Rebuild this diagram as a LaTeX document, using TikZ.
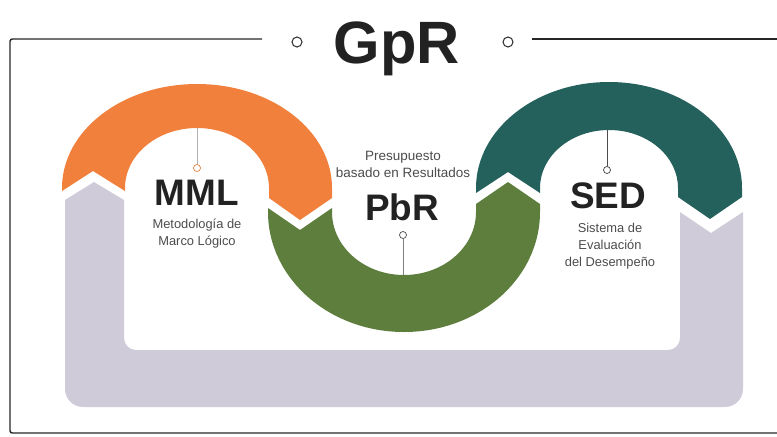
\documentclass[tikz,border=0pt]{standalone}
\usepackage{fontspec}
\setmainfont{Liberation Sans}
\usepackage{xcolor}
\usetikzlibrary{positioning, calc}

\definecolor{mmlorange}{HTML}{F0803C}
\definecolor{pbrgreen}{HTML}{5E7E3E}
\definecolor{sedteal}{HTML}{24605C}
\definecolor{loopgray}{HTML}{CFCBD8}
\definecolor{inkgray}{HTML}{222222}

\begin{document}
\begin{tikzpicture}[
    x=0.03cm, y=-0.03cm,
    frame/.style={line width=1.2pt, black!85},
    ring/.style={circle, draw=black!80, fill=white, line width=0.9pt, minimum size=0.3cm, inner sep=0pt},
    dot/.style={circle, draw, fill=white, line width=0.6pt, minimum size=0.21cm, inner sep=0pt},
    stem/.style={line width=0.5pt},
    acro/.style={font=\fontsize{31.5}{32}\selectfont\bfseries, text=inkgray, inner sep=0pt, anchor=base},
    desc/.style={font=\fontsize{11}{14.5}\selectfont, text=black!70, align=center, inner sep=0pt, anchor=north}
]
\useasboundingbox (0,0) rectangle (777,436);

% Frame and title
\draw[frame, rounded corners=2pt] (262,39) -- (10,39) -- (10,433) -- (777,433);
\draw[frame] (532,39) -- (777,39);
\node[font=\fontsize{51}{51}\selectfont\bfseries, text=inkgray, anchor=base] (gpr) at (397,63) {GpR};
\node[ring] (ringl) at (297,42) {};
\node[ring] (ringr) at (508,42) {};

% Loop band (gray)
\fill[loopgray] (65,200) -- (94,182) -- (124,200) -- (124,338)
    arc[start angle=180, end angle=90, radius=12] -- (668,350)
    arc[start angle=90, end angle=0, radius=12] -- (680,212) -- (711,233) -- (743,212) -- (743,389)
    arc[start angle=0, end angle=90, radius=18] -- (83,407)
    arc[start angle=90, end angle=180, radius=18] -- cycle;

% MML band
\fill[mmlorange] (62,191) -- (62,188)
    arc[start angle=180, end angle=360, x radius=135, y radius=104] -- (332,198) -- (300,220) -- (269,198) -- (269,188)
    arc[start angle=0, end angle=-180, x radius=72, y radius=60] -- (125,191) -- (93,171) -- cycle;

% PbR band
\fill[pbrgreen] (268,208) -- (300,230) -- (332,208) -- (332,212)
    arc[start angle=180, end angle=0, x radius=72, y radius=63] -- (476,204) -- (508,182) -- (540,204) -- (540,212)
    arc[start angle=0, end angle=180, x radius=136, y radius=120] -- cycle;

% SED band
\fill[sedteal] (476,193) -- (476,188)
    arc[start angle=180, end angle=360, x radius=133, y radius=106] -- (742,197) -- (710,219) -- (678,197) -- (678,188)
    arc[start angle=0, end angle=-180, x radius=69, y radius=58] -- (540,193) -- (508,172) -- cycle;

% Labels
\node[acro] (mml) at (197,205) {MML};
\node[desc] (mmltext) at (197,219) {Metodología de\\Marco Lógico};
\node[acro] (pbr) at (402,220) {PbR};
\node[desc, font=\fontsize{11.5}{14.5}\selectfont] (pbrtext) at (403,151) {Presupuesto\\basado en Resultados};
\node[acro] (sed) at (608,208) {SED};
\node[desc] (sedtext) at (610,223) {Sistema de\\Evaluación\\del Desempeño};

% Markers
\coordinate (mmlstem) at (197,128);
\node[dot, draw=mmlorange!70!brown] (mmldot) at (197,168) {};
\draw[stem, black!30] (mmlstem) -- (mmldot);

\coordinate (pbrstem) at (403,275);
\node[dot, draw=black!70] (pbrdot) at (403,235) {};
\draw[stem, black!50] (pbrdot) -- (pbrstem);

\coordinate (sedstem) at (607,130);
\node[dot, draw=black!75] (seddot) at (607,170) {};
\draw[stem, black!70] (sedstem) -- (seddot);

\end{tikzpicture}
\end{document}
